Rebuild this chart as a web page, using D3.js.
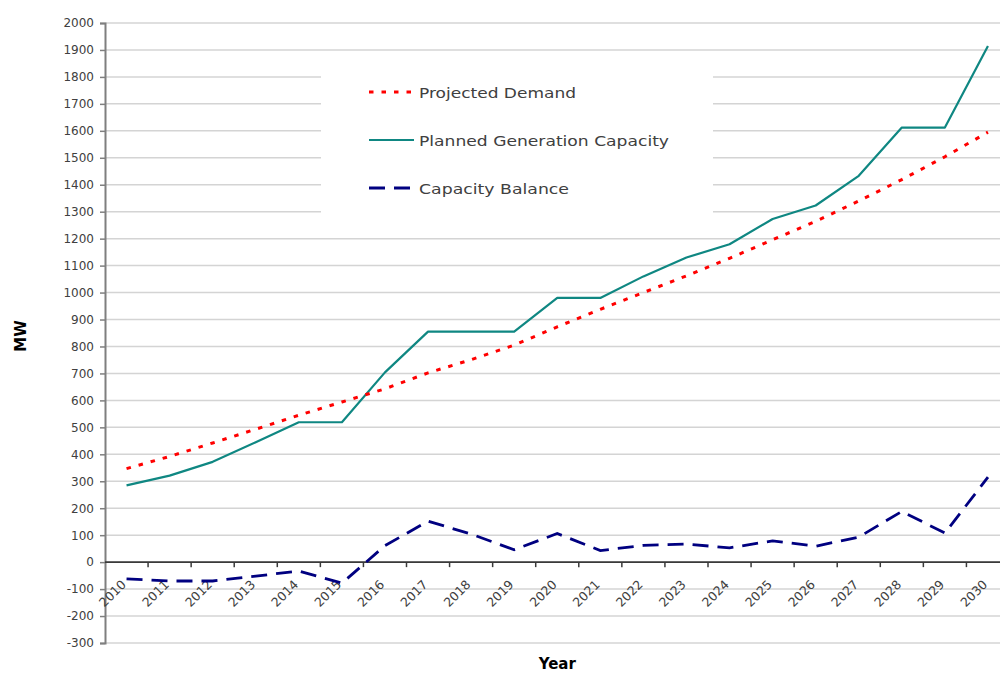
<!DOCTYPE html>
<html>
<head>
<meta charset="utf-8">
<script src="https://cdn.jsdelivr.net/npm/d3@7"></script>
<style>
  html, body { margin: 0; padding: 0; background: #fff; }
  svg { display: block; font-family: "DejaVu Sans", sans-serif; }
</style>
</head>
<body>
<svg id="chart" width="1000" height="673"></svg>
<script>
// Years on the category axis
const years = ["2010","2011","2012","2013","2014","2015","2016","2017","2018","2019","2020",
               "2021","2022","2023","2024","2025","2026","2027","2028","2029","2030"];

// MW per year
const projectedDemand = [347, 392, 442, 493, 545, 594, 643, 702, 751, 805, 873,
                         938, 1000, 1062, 1127, 1196, 1264, 1340, 1419, 1504, 1595];
const plannedCapacity = [285, 321, 372, 445, 519, 519, 704, 855, 855, 855, 980,
                         980, 1060, 1130, 1179, 1273, 1323, 1433, 1612, 1612, 1915];
const capacityBalance = [-62, -70, -70, -52, -33, -78, 61, 152, 104, 46, 106,
                         43, 62, 67, 53, 79, 59, 93, 188, 108, 315];

// Value axis ticks
const yTicks = d3.range(-300, 2001, 100);

const seriesNames = ["Projected Demand", "Planned Generation Capacity", "Capacity Balance"];

const svg = d3.select("#chart");

const x = d3.scaleBand().domain(years).range([105, 1009.5]).padding(0);
const y = d3.scaleLinear().domain([-300, 2000]).range([643, 23]);

const textColor = "#404040";

// horizontal gridlines
svg.append("g")
  .selectAll("line")
  .data(yTicks)
  .join("line")
  .attr("x1", 105).attr("x2", 1009.5)
  .attr("y1", d => y(d)).attr("y2", d => y(d))
  .attr("stroke", "#d4d4d4")
  .attr("stroke-width", 1.5);

// legend backdrop hides the gridlines behind it
svg.append("rect")
  .attr("x", 321).attr("y", 58)
  .attr("width", 392).attr("height", 168)
  .attr("fill", "#fff");

// value axis
const yAxis = svg.append("g")
  .attr("transform", "translate(105,0)")
  .call(d3.axisLeft(y).tickValues(yTicks).tickSize(5).tickPadding(6).tickFormat(d => String(d)));
yAxis.select(".domain").attr("stroke", "#7f7f7f").attr("stroke-width", 2);
yAxis.selectAll(".tick line").attr("stroke", "#7f7f7f").attr("stroke-width", 1.5);
yAxis.selectAll(".tick text")
  .attr("fill", textColor)
  .style("font-size", "12px")
  .style("font-family", "DejaVu Sans, sans-serif");

// category axis along zero
const boundaries = years.slice(1).map(yr => x(yr));
const xAxis = svg.append("g");
xAxis.append("line")
  .attr("x1", 105).attr("x2", 1009.5)
  .attr("y1", y(0)).attr("y2", y(0))
  .attr("stroke", "#3a3a3a").attr("stroke-width", 1.6);
xAxis.selectAll("line.tk")
  .data(boundaries)
  .join("line")
  .attr("class", "tk")
  .attr("x1", d => d).attr("x2", d => d)
  .attr("y1", y(0)).attr("y2", y(0) + 5)
  .attr("stroke", "#3a3a3a").attr("stroke-width", 1.5);
xAxis.selectAll("text")
  .data(years)
  .join("text")
  .attr("transform", d => `translate(${x(d) + x.bandwidth() / 2 - 6},579) rotate(-45)`)
  .attr("text-anchor", "end")
  .attr("dy", "0.71em")
  .attr("fill", textColor)
  .style("font-size", "12.5px")
  .text(d => d);

// series lines
const line = vals => d3.line()
  .x((d, i) => x(years[i]) + x.bandwidth() / 2)
  .y(d => y(d))(vals);

svg.append("path")
  .attr("d", line(plannedCapacity))
  .attr("fill", "none")
  .attr("stroke", "#0f8782")
  .attr("stroke-width", 2.2)
  .attr("stroke-linejoin", "round");

svg.append("path")
  .attr("d", line(projectedDemand))
  .attr("fill", "none")
  .attr("stroke", "#ff0000")
  .attr("stroke-width", 3)
  .attr("stroke-dasharray", "4.5,8");

svg.append("path")
  .attr("d", line(capacityBalance))
  .attr("fill", "none")
  .attr("stroke", "#000080")
  .attr("stroke-width", 2.8)
  .attr("stroke-dasharray", "16,9");

// legend
const legendItems = [
  { name: seriesNames[0], color: "#ff0000", width: 3, dash: "4.5,8", y: 92, len: 157, x2: 414 },
  { name: seriesNames[1], color: "#0f8782", width: 2.2, dash: null, y: 140, len: 250, x2: 414 },
  { name: seriesNames[2], color: "#000080", width: 2.8, dash: "16,9", y: 188, len: 150, x2: 410 }
];
const lg = svg.append("g");
legendItems.forEach(it => {
  lg.append("line")
    .attr("x1", 369).attr("x2", it.x2)
    .attr("y1", it.y).attr("y2", it.y)
    .attr("stroke", it.color)
    .attr("stroke-width", it.width)
    .attr("stroke-dasharray", it.dash);
  lg.append("text")
    .attr("x", 419).attr("y", it.y + 5.5)
    .attr("fill", textColor)
    .attr("textLength", it.len)
    .attr("lengthAdjust", "spacingAndGlyphs")
    .style("font-size", "14.5px")
    .text(it.name);
});

// axis titles
svg.append("text")
  .attr("x", (105 + 1009.5) / 2).attr("y", 669)
  .attr("text-anchor", "middle")
  .attr("fill", "#000")
  .style("font-size", "15px").style("font-weight", "bold")
  .text("Year");

svg.append("text")
  .attr("transform", "translate(25.5,336) rotate(-90)")
  .attr("text-anchor", "middle")
  .attr("fill", "#000")
  .style("font-size", "15px").style("font-weight", "bold")
  .text("MW");
</script>
</body>
</html>
